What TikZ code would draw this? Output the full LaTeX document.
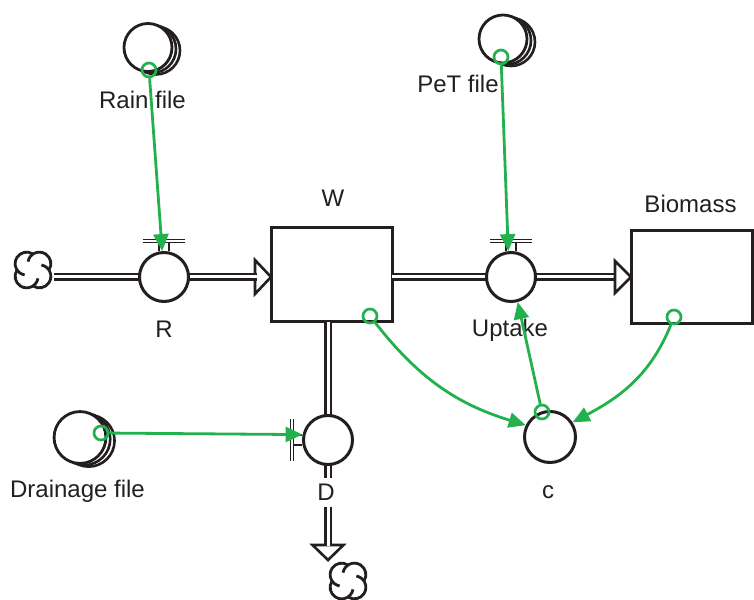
\documentclass[tikz,border=0pt]{standalone}
\usepackage{fontspec}
\setmainfont{Liberation Sans}
\usetikzlibrary{arrows.meta}
\definecolor{lnk}{RGB}{34,177,76}
\definecolor{ink}{RGB}{35,31,32}
\tikzset{
  cloudsym/.pic={
    \foreach \a in {45,135,225,315}
      \draw[ink, line width=2.8pt] (\a:9) ++(\a-78:11.5) arc[start angle=\a-78, end angle=\a+125, radius=11.5];
  },
  vbar/.pic={
    \draw[ink, line width=1.6pt, double=white, double distance=1.5pt] (-21,10) -- (21,10);
    \draw[ink, line width=1.6pt] (-5,0) -- (-5,8) (5,0) -- (5,8);
  },
  fileset/.pic={
    \draw[ink, line width=2.6pt, fill=white] (8,-3) circle[radius=24];
    \draw[ink, line width=2.6pt, fill=white] (4,-1.5) circle[radius=24];
    \draw[ink, line width=2.8pt, fill=white] (0,0) circle[radius=24];
  }
}
\begin{document}
\begin{tikzpicture}[x=1pt,y=1pt,
  stock/.style={draw=ink, line width=3pt, fill=white, minimum width=121pt, minimum height=94pt, inner sep=0},
  valve/.style={draw=ink, line width=3pt, fill=white, circle, minimum size=49pt, inner sep=0},
  aux/.style={draw=ink, line width=3pt, fill=white, circle, minimum size=51pt, inner sep=0},
  lbl/.style={font=\fontsize{24}{26}\selectfont, text=ink, inner sep=1pt},
  pipe/.style={draw=ink, line width=2.3pt, double=white, double distance=3pt},
  head/.style={draw=ink, line width=2.6pt, fill=white, line join=miter},
  src/.style={draw=lnk, line width=2.7pt, circle, minimum size=14pt, inner sep=0},
  link/.style={draw=lnk, line width=2.8pt, -{Triangle[length=17pt,width=15pt]}},
]
\useasboundingbox (0,0) rectangle (754,599);

% stocks
\node[stock] (W) at (331.5,324) {};
\node[lbl] (Wl) at (333,400.5) {W};
\node[stock, minimum height=93pt] (B) at (691.5,321.5) {};
\node[lbl] (Bl) at (690.5,395.5) {Biomass};

% clouds
\pic at (33,329) {cloudsym};
\pic at (348,18) {cloudsym};
\coordinate (srcR) at (54,322);
\coordinate (sinkD) at (328,39);

% valve positions
\coordinate (Rc) at (164,322);
\coordinate (Uc) at (511,322);
\coordinate (Dc) at (328,159);

% pipes (drawn before valves)
\draw[head] (255,339) -- (271,322) -- (255,305) -- cycle;
\draw[pipe] (srcR) -- (Rc) -- (256.5,322);
\draw[pipe] (392,322) -- (Uc) -- (616.5,322);
\draw[head] (615,338) -- (631,322) -- (615,306) -- cycle;
\draw[head] (312.5,54) -- (sinkD) -- (343.5,54) -- cycle;
\draw[pipe] (328,277) -- (Dc) -- (328,52.5);

% valves
\node[valve] (R) at (Rc) {};
\node[valve] (U) at (Uc) {};
\node[valve] (D) at (Dc) {};
\pic at (R.north) {vbar};
\pic at (U.north) {vbar};
\pic[rotate=90] at (D.west) {vbar};
\node[aux] (c) at (550,162) {};

% labels
\node[lbl] (Rl) at (164,270) {R};
\node[lbl] (Ul) at (510,269) {Uptake};
\node[lbl, fill=white, inner ysep=6pt] (Dl) at (326,106.5) {D};
\node[lbl] (cl) at (548,107) {c};

% files
\pic at (148,551.5) {fileset};
\pic at (503,560) {fileset};
\pic[scale=1.08] at (80,161.5) {fileset};
\node[lbl] (rainl) at (142.5,499) {Rain file};
\node[lbl] (petl) at (458,515) {PeT file};
\node[lbl] (drl) at (77.5,108) {Drainage file};

% green sources
\node[src] (rainS) at (149,529) {};
\node[src] (petS) at (501,542) {};
\node[src] (drS) at (101,166) {};
\node[src] (WS) at (370,283) {};
\node[src] (BS) at (674,282) {};
\node[src] (cS) at (542,187) {};

% links
\draw[link] (rainS) -- (R.94);
\draw[link] (petS) -- (U.96);
\draw[link] (drS) -- (D.168);
\draw[link] (cS) -- (U.285);
\draw[link] (WS) to[out=-52, in=163] (c.154);
\draw[link] (BS) to[out=-112, in=28] (c.33);
\end{tikzpicture}
\end{document}
